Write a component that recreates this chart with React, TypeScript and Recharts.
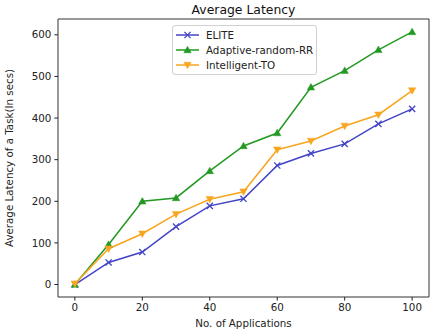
import React from "react";
import {
  LineChart,
  Line,
  XAxis,
  YAxis,
  Legend,
  ReferenceArea,
  Customized,
} from "recharts";

const applications = [0, 10, 20, 30, 40, 50, 60, 70, 80, 90, 100];
const eliteLatency = [0, 53, 78, 139, 189, 206, 286, 315, 338, 386, 422];
const adaptiveLatency = [0, 96, 200, 208, 273, 333, 364, 474, 514, 564, 607];
const intelligentLatency = [2, 86, 122, 169, 205, 223, 324, 345, 381, 408, 466];
const xTicks = [0, 20, 40, 60, 80, 100];
const yTicks = [0, 100, 200, 300, 400, 500, 600];

const seriesNames = ["ELITE", "Adaptive-random-RR", "Intelligent-TO"];
const COLORS = ["#4343c6", "#229922", "#f8a620"];

const data = applications.map((a, i) => ({
  apps: a,
  elite: eliteLatency[i],
  adaptive: adaptiveLatency[i],
  intelligent: intelligentLatency[i],
}));

const FONT = "'DejaVu Sans', sans-serif";
const FS = 10.3;

const XMark = ({ cx, cy, color }: any) => {
  if (cx == null || cy == null) return null;
  const s = 3.1;
  return (
    <g>
      <line x1={cx - s} y1={cy - s} x2={cx + s} y2={cy + s} stroke={color} strokeWidth={1.3} />
      <line x1={cx - s} y1={cy + s} x2={cx + s} y2={cy - s} stroke={color} strokeWidth={1.3} />
    </g>
  );
};

const TriUp = ({ cx, cy, color }: any) => {
  if (cx == null || cy == null) return null;
  const s = 3.7;
  return (
    <polygon
      points={`${cx},${cy - s} ${cx - s},${cy + s * 0.75} ${cx + s},${cy + s * 0.75}`}
      fill={color}
      stroke={color}
      strokeWidth={0.5}
    />
  );
};

const TriDown = ({ cx, cy, color }: any) => {
  if (cx == null || cy == null) return null;
  const s = 3.7;
  return (
    <polygon
      points={`${cx},${cy + s} ${cx - s},${cy - s * 0.75} ${cx + s},${cy - s * 0.75}`}
      fill={color}
      stroke={color}
      strokeWidth={0.5}
    />
  );
};

const markers = [XMark, TriUp, TriDown];

const LegendContent = () => (
  <div
    style={{
      border: "1px solid #d0d0d0",
      borderRadius: 3,
      background: "rgba(255,255,255,0.85)",
      width: 145,
      height: 50,
      boxSizing: "border-box",
      padding: "1px 0 0 2px",
      fontFamily: FONT,
      fontSize: FS,
      color: "#222",
    }}
  >
    {seriesNames.map((name, i) => {
      const M = markers[i];
      return (
        <div key={name} style={{ display: "flex", alignItems: "center", height: 15.3 }}>
          <svg width={25} height={12} style={{ display: "block" }}>
            <line x1={1} y1={6} x2={24} y2={6} stroke={COLORS[i]} strokeWidth={1.5} />
            <M cx={12.5} cy={6} color={COLORS[i]} />
          </svg>
          <span style={{ marginLeft: 6, whiteSpace: "nowrap" }}>{name}</span>
        </div>
      );
    })}
  </div>
);

const Title = () => (
  <text x={243.5} y={14} textAnchor="middle" fontFamily={FONT} fontSize={12.4} fill="#111">
    Average Latency
  </text>
);

const YLabel = () => (
  <text
    x={0}
    y={0}
    transform="translate(13,158) rotate(-90)"
    textAnchor="middle"
    fontFamily={FONT}
    fontSize={FS}
    fill="#222"
  >
    Average Latency of a Task(In secs)
  </text>
);

const XLabel = () => (
  <text x={243.5} y={327} textAnchor="middle" fontFamily={FONT} fontSize={FS} fill="#222">
    No. of Applications
  </text>
);

export default function App() {
  return (
    <div style={{ position: "absolute", left: 0, top: 0, background: "#fff" }}>
      <LineChart
        width={436}
        height={335}
        data={data}
        margin={{ top: 19, right: 7, left: 0, bottom: 0 }}
      >
        <XAxis
          dataKey="apps"
          type="number"
          domain={[-5, 105]}
          ticks={xTicks}
          height={38}
          tickSize={3.6}
          tickMargin={3}
          axisLine={false}
          tickLine={{ stroke: "#222" }}
          tick={{ fill: "#222", fontSize: FS, fontFamily: FONT }}
          allowDataOverflow
        />
        <YAxis
          type="number"
          domain={[-30, 638]}
          ticks={yTicks}
          width={58}
          tickSize={3.6}
          tickMargin={3}
          axisLine={false}
          tickLine={{ stroke: "#222" }}
          tick={{ fill: "#222", fontSize: FS, fontFamily: FONT }}
          allowDataOverflow
        />
        <ReferenceArea
          x1={-5}
          x2={105}
          y1={-30}
          y2={638}
          fill="none"
          fillOpacity={0}
          stroke="#333"
          strokeWidth={1}
          ifOverflow="visible"
        />
        <Line
          dataKey="elite"
          name={seriesNames[0]}
          stroke={COLORS[0]}
          strokeWidth={1.5}
          isAnimationActive={false}
          dot={(p: any) => <XMark key={p.index} cx={p.cx} cy={p.cy} color={COLORS[0]} />}
        />
        <Line
          dataKey="adaptive"
          name={seriesNames[1]}
          stroke={COLORS[1]}
          strokeWidth={1.5}
          isAnimationActive={false}
          dot={(p: any) => <TriUp key={p.index} cx={p.cx} cy={p.cy} color={COLORS[1]} />}
        />
        <Line
          dataKey="intelligent"
          name={seriesNames[2]}
          stroke={COLORS[2]}
          strokeWidth={1.5}
          isAnimationActive={false}
          dot={(p: any) => <TriDown key={p.index} cx={p.cx} cy={p.cy} color={COLORS[2]} />}
        />
        <Legend
          layout="vertical"
          align="center"
          verticalAlign="middle"
          wrapperStyle={{ left: 172, top: 25, width: 145, height: 50 }}
          content={() => <LegendContent />}
        />
        <Customized component={Title} />
        <Customized component={YLabel} />
        <Customized component={XLabel} />
      </LineChart>
    </div>
  );
}
